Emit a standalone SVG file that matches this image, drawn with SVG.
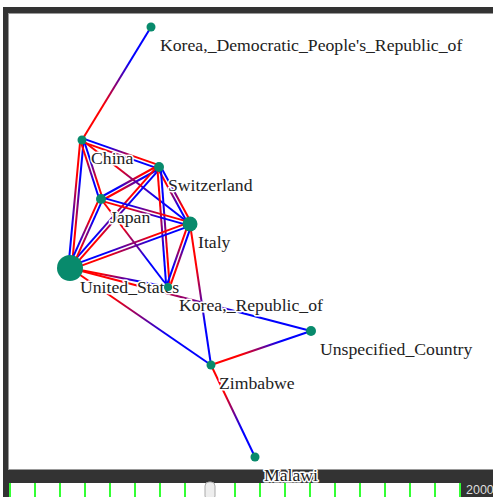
<svg xmlns="http://www.w3.org/2000/svg" width="493" height="497" viewBox="0 0 493 497">
<style>
.e{stroke-width:2;fill:none}
.n{fill:#088a6c}
.lbl{font-family:"Liberation Serif","Times New Roman",serif;font-size:17.7px;fill:#222;stroke:#fff;stroke-width:3px;stroke-linejoin:round;paint-order:stroke}
.tick{stroke:#33ff33;stroke-width:2}
</style>
<defs>
<linearGradient id="gDR" x1="0" y1="0" x2="1" y2="1"><stop offset="0.3" stop-color="#f00"/><stop offset="0.7" stop-color="#00f"/></linearGradient>
<linearGradient id="gUL" x1="0" y1="0" x2="1" y2="1"><stop offset="0.3" stop-color="#00f"/><stop offset="0.7" stop-color="#f00"/></linearGradient>
<linearGradient id="gUR" x1="0" y1="1" x2="1" y2="0"><stop offset="0.3" stop-color="#f00"/><stop offset="0.7" stop-color="#00f"/></linearGradient>
<linearGradient id="gDL" x1="0" y1="1" x2="1" y2="0"><stop offset="0.3" stop-color="#00f"/><stop offset="0.7" stop-color="#f00"/></linearGradient>
</defs>
<rect x="3" y="7" width="490" height="490" fill="#333"/>
<rect x="8.5" y="13.5" width="490" height="456" fill="#fff" stroke="#999" stroke-width="1"/>
<g id="slider">
<rect x="9" y="483" width="451" height="16" fill="#fff"/>
<line class="tick" x1="10" y1="483" x2="10" y2="497"/>
<line class="tick" x1="35" y1="483" x2="35" y2="497"/>
<line class="tick" x1="60" y1="483" x2="60" y2="497"/>
<line class="tick" x1="85" y1="483" x2="85" y2="497"/>
<line class="tick" x1="110" y1="483" x2="110" y2="497"/>
<line class="tick" x1="135" y1="483" x2="135" y2="497"/>
<line class="tick" x1="160" y1="483" x2="160" y2="497"/>
<line class="tick" x1="185" y1="483" x2="185" y2="497"/>
<line class="tick" x1="235" y1="483" x2="235" y2="497"/>
<line class="tick" x1="260" y1="483" x2="260" y2="497"/>
<line class="tick" x1="285" y1="483" x2="285" y2="497"/>
<line class="tick" x1="310" y1="483" x2="310" y2="497"/>
<line class="tick" x1="335" y1="483" x2="335" y2="497"/>
<line class="tick" x1="360" y1="483" x2="360" y2="497"/>
<line class="tick" x1="385" y1="483" x2="385" y2="497"/>
<line class="tick" x1="410" y1="483" x2="410" y2="497"/>
<line class="tick" x1="435" y1="483" x2="435" y2="497"/>
<line class="tick" x1="460" y1="483" x2="460" y2="497"/>
<rect x="205" y="482" width="10" height="18" rx="4" fill="#eee" stroke="#aaa" stroke-width="1"/>
<text x="466" y="494" font-family="Liberation Sans, Arial, sans-serif" font-size="12.5" fill="#ddd">2000</text>
</g>
<g id="edges">
<line class="e" x1="82" y1="140" x2="151" y2="27" stroke="url(#gUR)"/>
<line class="e" x1="80.3" y1="139.8" x2="68.3" y2="267.8" stroke="url(#gDL)"/>
<line class="e" x1="71.7" y1="268.2" x2="83.7" y2="140.2" stroke="url(#gUR)"/>
<line class="e" x1="81.4" y1="141.6" x2="158.4" y2="168.6" stroke="url(#gDR)"/>
<line class="e" x1="159.6" y1="165.4" x2="82.6" y2="138.4" stroke="url(#gUL)"/>
<line class="e" x1="80.4" y1="140.5" x2="99.4" y2="199.5" stroke="url(#gDR)"/>
<line class="e" x1="102.6" y1="198.5" x2="83.6" y2="139.5" stroke="url(#gUL)"/>
<line class="e" x1="82" y1="140" x2="190" y2="224" stroke="url(#gDR)"/>
<line class="e" x1="158.2" y1="165.5" x2="100.2" y2="197.5" stroke="url(#gDL)"/>
<line class="e" x1="101.8" y1="200.5" x2="159.8" y2="168.5" stroke="url(#gUR)"/>
<line class="e" x1="157.5" y1="167.8" x2="188.5" y2="224.8" stroke="url(#gDR)"/>
<line class="e" x1="191.5" y1="223.2" x2="160.5" y2="166.2" stroke="url(#gUL)"/>
<line class="e" x1="157.7" y1="165.9" x2="68.7" y2="266.9" stroke="url(#gDL)"/>
<line class="e" x1="71.3" y1="269.1" x2="160.3" y2="168.1" stroke="url(#gUR)"/>
<line class="e" x1="157.3" y1="167.1" x2="166.3" y2="287.1" stroke="url(#gDR)"/>
<line class="e" x1="169.7" y1="286.9" x2="160.7" y2="166.9" stroke="url(#gUL)"/>
<line class="e" x1="100.5" y1="200.6" x2="189.5" y2="225.6" stroke="url(#gDR)"/>
<line class="e" x1="190.5" y1="222.4" x2="101.5" y2="197.4" stroke="url(#gUL)"/>
<line class="e" x1="99.4" y1="198.3" x2="68.4" y2="267.3" stroke="url(#gDL)"/>
<line class="e" x1="71.6" y1="268.7" x2="102.6" y2="199.7" stroke="url(#gUR)"/>
<line class="e" x1="101" y1="199" x2="168" y2="287" stroke="url(#gDR)"/>
<line class="e" x1="189.4" y1="222.4" x2="69.4" y2="266.4" stroke="url(#gDL)"/>
<line class="e" x1="70.6" y1="269.6" x2="190.6" y2="225.6" stroke="url(#gUR)"/>
<line class="e" x1="188.4" y1="223.4" x2="166.4" y2="286.4" stroke="url(#gDL)"/>
<line class="e" x1="169.6" y1="287.6" x2="191.6" y2="224.6" stroke="url(#gUR)"/>
<line class="e" x1="190" y1="224" x2="211" y2="365" stroke="url(#gDR)"/>
<line class="e" x1="70" y1="268" x2="168" y2="287" stroke="url(#gDR)"/>
<line class="e" x1="70" y1="268" x2="311" y2="331" stroke="url(#gDR)"/>
<line class="e" x1="70" y1="268" x2="211" y2="365" stroke="url(#gDR)"/>
<line class="e" x1="211" y1="365" x2="311" y2="331" stroke="url(#gUR)"/>
<line class="e" x1="211" y1="365" x2="255" y2="457" stroke="url(#gDR)"/>
</g>
<g id="n-dprk"><circle class="n" cx="151" cy="27" r="4.5"/><text class="lbl" x="160" y="51">Korea,_Democratic_People's_Republic_of</text></g>
<g id="n-china"><circle class="n" cx="82" cy="140" r="4.5"/><text class="lbl" x="91" y="164">China</text></g>
<g id="n-switzerland"><circle class="n" cx="159" cy="167" r="5"/><text class="lbl" x="168" y="191">Switzerland</text></g>
<g id="n-japan"><circle class="n" cx="101" cy="199" r="5"/><text class="lbl" x="110" y="223">Japan</text></g>
<g id="n-italy"><circle class="n" cx="190" cy="224" r="7.5"/><text class="lbl" x="198" y="248">Italy</text></g>
<g id="n-us"><circle class="n" cx="70" cy="268" r="13"/><text class="lbl" x="80" y="293">United_States</text></g>
<g id="n-korea-rep"><circle class="n" cx="168" cy="287" r="4"/><text class="lbl" x="179" y="311">Korea,_Republic_of</text></g>
<g id="n-unspecified"><circle class="n" cx="311" cy="331" r="5"/><text class="lbl" x="320" y="355">Unspecified_Country</text></g>
<g id="n-zimbabwe"><circle class="n" cx="211" cy="365" r="4.5"/><text class="lbl" x="219" y="389">Zimbabwe</text></g>
<g id="n-malawi"><circle class="n" cx="255" cy="457" r="4.5"/><text class="lbl" x="264" y="481">Malawi</text></g>
</svg>
